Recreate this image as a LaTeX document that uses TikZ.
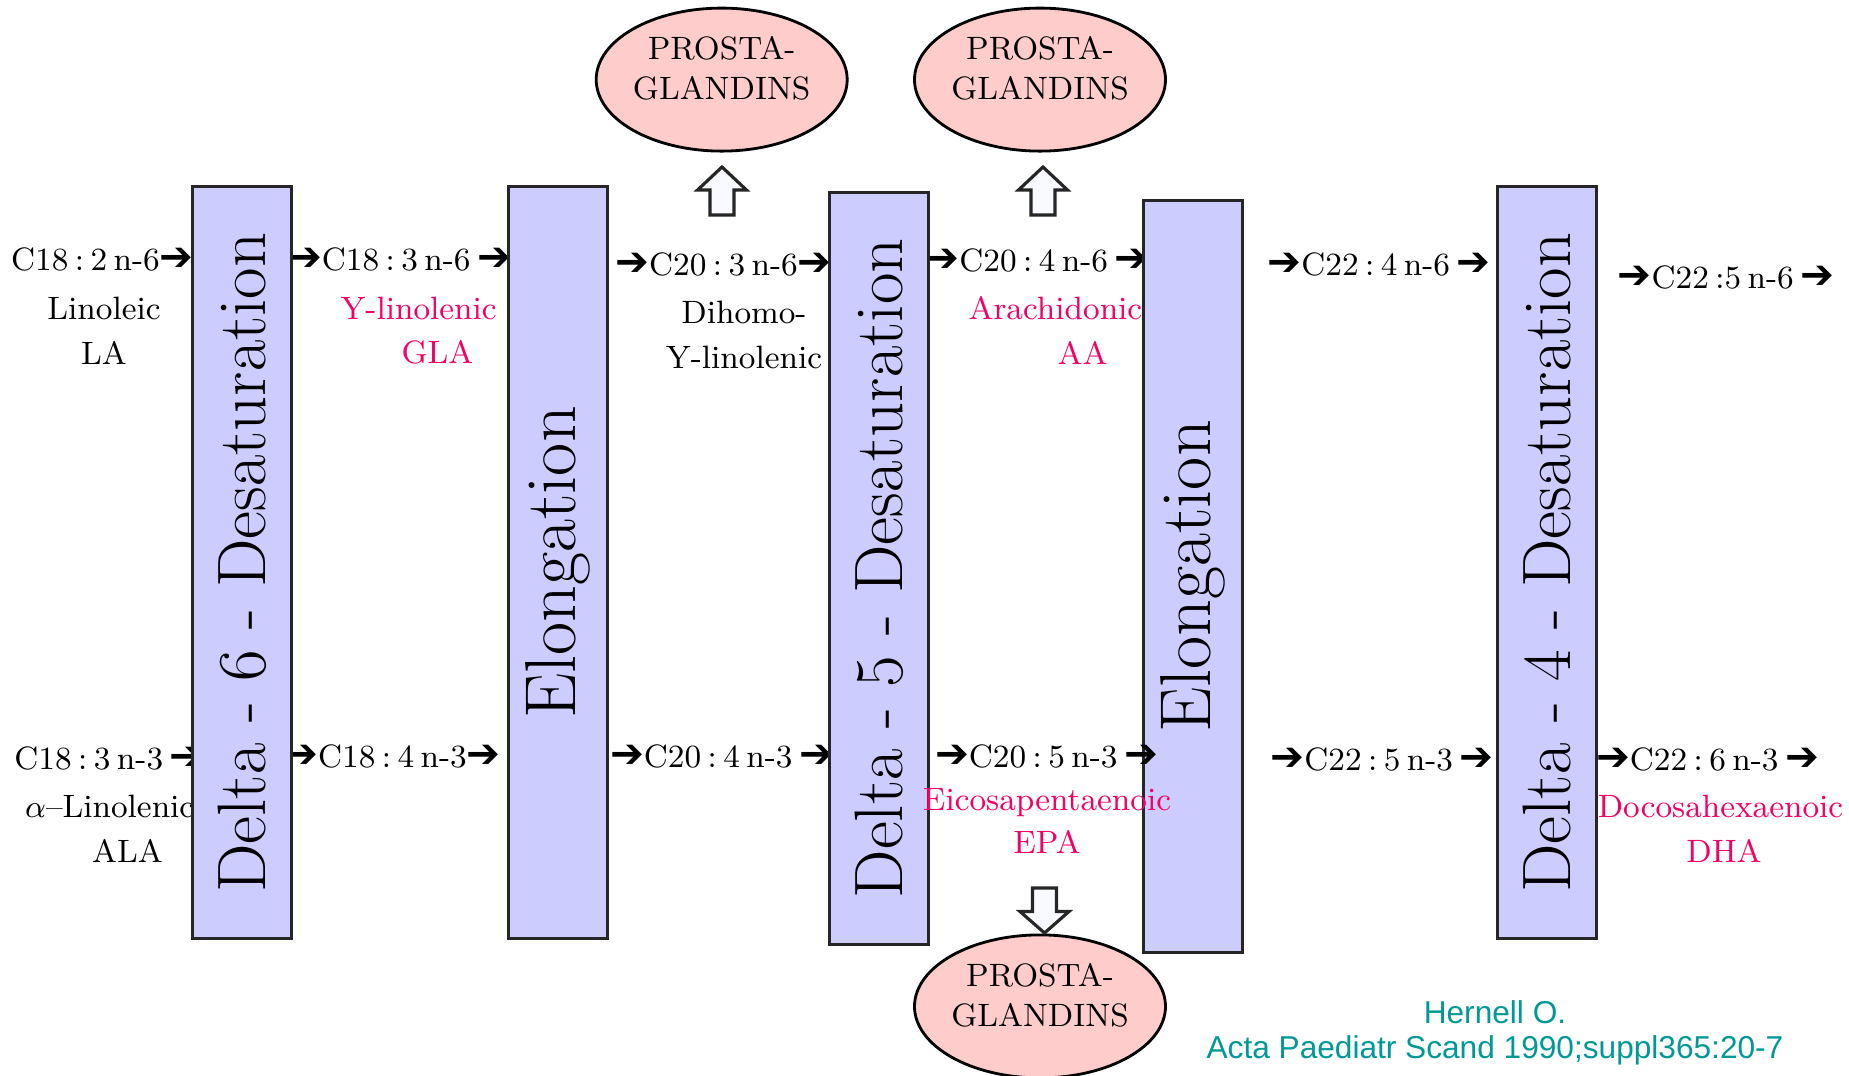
\documentclass[tikz,border=0pt]{standalone}
\usepackage{fontspec}
\usepackage{graphicx}
\usepackage{tikz}
\usetikzlibrary{positioning,shapes.geometric}
\usepackage{xcolor}
\newfontfamily\dingfont{DejaVu Sans Bold}
\newfontfamily\citefont{Liberation Sans}
\definecolor{lavender}{RGB}{204,204,255}
\definecolor{rosy}{RGB}{255,204,204}
\definecolor{acidpink}{RGB}{245,0,100}
\definecolor{citeteal}{RGB}{0,153,150}
\definecolor{arrowfill}{RGB}{248,250,255}
\newcommand{\fwd}{{\dingfont\fontsize{11.5}{11}\selectfont ➔}}
\newcommand{\tightspace}{\spaceskip=0.2em\relax}
\newcommand{\pglabel}{\smash{\begin{tabular}{@{}c@{}}PROSTA-\\[0pt]GLANDINS\end{tabular}}}
\frenchspacing

\begin{document}
\begin{tikzpicture}[
    enzyme/.style={
      rectangle, draw=black!85, fill=lavender, line width=0.9pt,
      minimum width=0.99cm, minimum height=7.52cm, inner sep=0pt,
      font=\fontsize{19.5}{21}\selectfont
    },
    elong/.style={enzyme, font=\fontsize{20.5}{22}\selectfont},
    chain/.style={font=\fontsize{9.2}{11}\selectfont, inner sep=0pt},
    formula/.style={chain, execute at begin node=\tightspace},
    plain/.style={chain, text=black},
    marked/.style={chain, text=acidpink},
    prosta/.style={
      ellipse, draw=black, line width=0.8pt, fill=rosy,
      minimum width=2.43cm, minimum height=1.43cm, inner sep=0pt,
      font=\fontsize{9.2}{11.5}\selectfont
    },
    hollow/.style={draw=black!85, line width=0.9pt, fill=arrowfill},
    cite/.style={font=\citefont\fontsize{9}{11}\selectfont, text=citeteal}
  ]
  \useasboundingbox (0,0) rectangle (18.49,-10.76);

  % n-6 series
  \node[formula] (t1) at (1.025,-2.594) {C18 : 2 n-6\fwd};
  \node[formula] (t2) at (3.995,-2.594) {\fwd C18 : 3 n-6 \fwd};
  \node[formula] (t3) at (7.235,-2.640) {\fwd C20 : 3 n-6\fwd};
  \node[formula] (t4) at (10.37,-2.606) {\fwd C20 : 4 n-6 \fwd};
  \node[formula] (t5) at (13.79,-2.640) {\fwd C22 : 4 n-6 \fwd};
  \node[formula] (t6) at (17.26,-2.770) {\fwd C22 :5 n-6 \fwd};

  % n-3 series
  \node[formula] (b1) at (1.090,-7.580) {C18 : 3 n-3 \fwd};
  \node[formula] (b2) at (3.925,-7.560) {\fwd C18 : 4 n-3\fwd};
  \node[formula] (b3) at (7.215,-7.560) {\fwd C20 : 4 n-3 \fwd};
  \node[formula] (b5) at (13.82,-7.594) {\fwd C22 : 5 n-3 \fwd};
  \node[formula] (b6) at (17.075,-7.594) {\fwd C22 : 6 n-3 \fwd};

  % Names
  \node[plain] (la1) at (1.04,-3.08) {Linoleic};
  \node[plain] (la2) at (1.04,-3.526) {LA};
  \node[marked] (gla1) at (4.186,-3.08) {Y-linolenic};
  \node[marked] (gla2) at (4.375,-3.526) {GLA};
  \node[plain] (dgla1) at (7.44,-3.125) {Dihomo-};
  \node[plain] (dgla2) at (7.44,-3.57) {Y-linolenic};
  \node[marked] (aa1) at (10.554,-3.08) {Arachidonic};
  \node[marked] (aa2) at (10.825,-3.526) {AA};
  \node[plain] (ala1) at (1.097,-8.066) {$\alpha$--Linolenic};
  \node[plain] (ala2) at (1.274,-8.514) {ALA};
  \node[marked] (dha1) at (17.205,-8.066) {Docosahexaenoic};
  \node[marked] (dha2) at (17.24,-8.514) {DHA};

  % Enzyme steps
  \node[enzyme] (d6) at (2.424,-5.625) {\rotatebox{90}{Delta - 6 - Desaturation}};
  \node[elong] (el1) at (5.583,-5.625) {\rotatebox{90}{Elongation}};
  \node[enzyme] (d5) at (8.791,-5.684) {\rotatebox{90}{Delta - 5 - Desaturation}};
  \node[elong] (el2) at (11.93,-5.765) {\rotatebox{90}{Elongation}};
  \node[enzyme] (d4) at (15.473,-5.625) {\rotatebox{90}{Delta - 4 - Desaturation}};

  % these sit over the boxes
  \node[formula] (b4) at (10.465,-7.560) {\fwd C20 : 5 n-3 \fwd};
  \node[marked] (epa1) at (10.47,-8.03) {Eicosapentaenoic};
  \node[marked] (epa2) at (10.47,-8.42) {EPA};

  % Prostaglandins
  \node[prosta] (pg1) at (7.217,-0.796) {\pglabel};
  \node[prosta] (pg2) at (10.40,-0.796) {\pglabel};
  \node[prosta] (pg3) at (10.40,-10.064) {\pglabel};

  \coordinate (up1) at (7.22,-2.15);
  \coordinate (up2) at (10.43,-2.15);
  \coordinate (dn1) at (10.445,-8.88);
  \draw[hollow] (up1) ++(-0.12,0) -- ++(0,0.25) -- ++(-0.125,0) -- ++(0.245,0.23)
    -- ++(0.245,-0.23) -- ++(-0.125,0) -- ++(0,-0.25) -- cycle;
  \draw[hollow] (up2) ++(-0.12,0) -- ++(0,0.25) -- ++(-0.125,0) -- ++(0.245,0.23)
    -- ++(0.245,-0.23) -- ++(-0.125,0) -- ++(0,-0.25) -- cycle;
  \draw[hollow] (dn1) ++(-0.12,0) -- ++(0,-0.235) -- ++(-0.125,0) -- ++(0.245,-0.215)
    -- ++(0.245,0.215) -- ++(-0.125,0) -- ++(0,0.235) -- cycle;

  % Source
  \node[cite] (src1) at (14.95,-10.118) {Hernell O.};
  \node[cite] (src2) at (14.95,-10.507) {Acta Paediatr Scand 1990;suppl365:20-7};
\end{tikzpicture}
\end{document}
